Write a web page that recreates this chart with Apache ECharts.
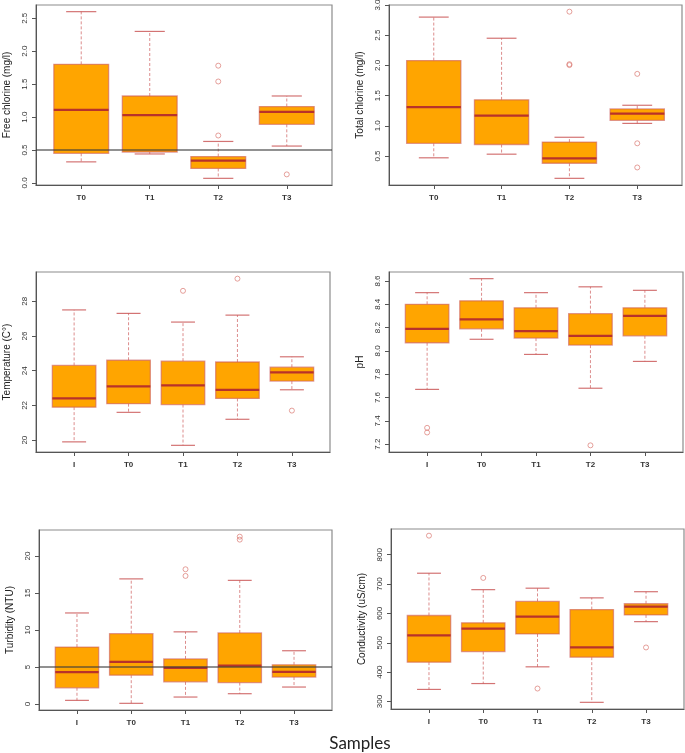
<!DOCTYPE html>
<html><head><meta charset="utf-8">
<script src="https://cdn.jsdelivr.net/npm/echarts@6/dist/echarts.min.js"></script>
<style>html,body{margin:0;padding:0;background:#fff}#c{width:685px;height:753px}</style>
</head><body><div id="c"></div>
<script>
// ---------- DATA ----------
const categoriesChlorine = ['T0', 'T1', 'T2', 'T3'];
const categoriesAll = ['I', 'T0', 'T1', 'T2', 'T3'];

// each row: [lower whisker, Q1, median, Q3, upper whisker]
const freeChlorineStats = [
  [0.32, 0.45, 1.11, 1.80, 2.60],
  [0.44, 0.47, 1.03, 1.32, 2.30],
  [0.07, 0.22, 0.34, 0.40, 0.63],
  [0.56, 0.89, 1.08, 1.16, 1.32]
];
const freeChlorineOutliers = [[], [], [1.78, 1.54, 0.72], [0.13]];
const freeChlorineTicks = [0, 0.5, 1.0, 1.5, 2.0, 2.5];
const freeChlorineLimit = 0.5;

const totalChlorineStats = [
  [0.47, 0.71, 1.31, 2.08, 2.80],
  [0.53, 0.69, 1.17, 1.43, 2.45],
  [0.13, 0.38, 0.46, 0.73, 0.81],
  [1.04, 1.09, 1.20, 1.28, 1.34]
];
const totalChlorineOutliers = [[], [], [2.89, 2.02, 2.005], [1.86, 0.71, 0.31]];
const totalChlorineTicks = [0.5, 1.0, 1.5, 2.0, 2.5, 3.0];

const temperatureStats = [
  [19.9, 21.9, 22.4, 24.3, 27.5],
  [21.6, 22.1, 23.1, 24.6, 27.3],
  [19.7, 22.05, 23.15, 24.55, 26.8],
  [21.2, 22.4, 22.9, 24.5, 27.2],
  [22.9, 23.4, 23.9, 24.2, 24.8]
];
const temperatureOutliers = [[], [], [28.6], [29.3], [21.7]];
const temperatureTicks = [20, 22, 24, 26, 28];

const phStats = [
  [7.67, 8.07, 8.19, 8.40, 8.50],
  [8.10, 8.19, 8.27, 8.43, 8.62],
  [7.97, 8.11, 8.17, 8.37, 8.50],
  [7.68, 8.05, 8.13, 8.32, 8.55],
  [7.91, 8.13, 8.30, 8.37, 8.52]
];
const phOutliers = [[7.34, 7.30], [], [], [7.19], []];
const phTicks = [7.2, 7.4, 7.6, 7.8, 8.0, 8.2, 8.4, 8.6];

const turbidityStats = [
  [0.5, 2.2, 4.3, 7.7, 12.3],
  [0.1, 3.9, 5.7, 9.5, 16.9],
  [0.95, 3.0, 4.9, 6.1, 9.75],
  [1.4, 2.9, 5.2, 9.6, 16.7],
  [2.3, 3.65, 4.35, 5.3, 7.2]
];
const turbidityOutliers = [[], [], [18.2, 17.3], [22.6, 22.2], []];
const turbidityTicks = [0, 5, 10, 15, 20];
const turbidityLimit = 5;

const conductivityStats = [
  [341, 434, 525, 593, 737],
  [361, 470, 548, 568, 681],
  [418, 530, 589, 641, 686],
  [297, 451, 484, 613, 653],
  [572, 595, 623, 633, 674]
];
const conductivityOutliers = [[865], [721], [344], [], [484]];
const conductivityTicks = [300, 400, 500, 600, 700, 800];

// ---------- LAYOUT ----------
const panels = [
  { cats: categoriesChlorine, stats: freeChlorineStats, out: freeChlorineOutliers, ticks: freeChlorineTicks, dec: 1, name: 'Free chlorine (mg/l)', limit: freeChlorineLimit, rect: [36, 5, 296, 180] },
  { cats: categoriesChlorine, stats: totalChlorineStats, out: totalChlorineOutliers, ticks: totalChlorineTicks, dec: 1, name: 'Total chlorine (mg/l)', limit: null, rect: [389, 5, 293, 180] },
  { cats: categoriesAll, stats: temperatureStats, out: temperatureOutliers, ticks: temperatureTicks, dec: 0, name: 'Temperature (C°)', limit: null, rect: [36, 272, 294, 180] },
  { cats: categoriesAll, stats: phStats, out: phOutliers, ticks: phTicks, dec: 1, name: 'pH', limit: null, rect: [389, 272, 294, 180] },
  { cats: categoriesAll, stats: turbidityStats, out: turbidityOutliers, ticks: turbidityTicks, dec: 0, name: 'Turbidity (NTU)', limit: turbidityLimit, rect: [39, 530, 293, 180] },
  { cats: categoriesAll, stats: conductivityStats, out: conductivityOutliers, ticks: conductivityTicks, dec: 0, name: 'Conductivity (uS/cm)', limit: null, rect: [391, 529, 293, 180] }
];

const FONT = 'Liberation Sans, Arial, sans-serif';
const BOX_FILL = '#FFA500';
const BOX_BORDER = 'rgba(205,92,92,0.6)';
const MEDIAN = '#B8322A';
const WHISKER = 'rgba(205,92,92,0.7)';
const CAP = 'rgba(200,80,80,0.8)';
const OUTLIER = '#DB7A74';

function renderBox(params, api) {
  const x = api.value(0);
  const lo = api.coord([x, api.value(1)]);
  const q1 = api.coord([x, api.value(2)]);
  const md = api.coord([x, api.value(3)]);
  const q3 = api.coord([x, api.value(4)]);
  const hi = api.coord([x, api.value(5)]);
  const cx = lo[0];
  const half = api.size([0.8, 0])[0] / 2;
  const capHalf = half * 0.55;
  return {
    type: 'group',
    children: [
      { type: 'line', shape: { x1: cx, y1: q3[1], x2: cx, y2: hi[1] }, style: { stroke: WHISKER, lineWidth: 1, lineDash: [3, 2] } },
      { type: 'line', shape: { x1: cx, y1: q1[1], x2: cx, y2: lo[1] }, style: { stroke: WHISKER, lineWidth: 1, lineDash: [3, 2] } },
      { type: 'line', shape: { x1: cx - capHalf, y1: hi[1], x2: cx + capHalf, y2: hi[1] }, style: { stroke: CAP, lineWidth: 1.2 } },
      { type: 'line', shape: { x1: cx - capHalf, y1: lo[1], x2: cx + capHalf, y2: lo[1] }, style: { stroke: CAP, lineWidth: 1.2 } },
      { type: 'rect', shape: { x: cx - half, y: q3[1], width: half * 2, height: q1[1] - q3[1] }, style: { fill: BOX_FILL, stroke: BOX_BORDER, lineWidth: 1.3 } },
      { type: 'line', shape: { x1: cx - half, y1: md[1], x2: cx + half, y2: md[1] }, style: { stroke: MEDIAN, lineWidth: 2.2 } }
    ]
  };
}

const grids = [], xAxes = [], yAxes = [], series = [];
panels.forEach((p, i) => {
  const n = p.cats.length;
  const positions = p.cats.map((c, k) => k + 1);
  const all = [];
  p.stats.forEach(s => all.push(s[0], s[4]));
  p.out.forEach(a => a.forEach(v => all.push(v)));
  const dMin = Math.min.apply(null, all), dMax = Math.max.apply(null, all);
  const ext = (dMax - dMin) * 0.04;

  grids.push({ left: p.rect[0], top: p.rect[1], width: p.rect[2], height: p.rect[3], show: true, borderColor: '#8c8c8c', borderWidth: 1.2, containLabel: false, outerBoundsMode: 'none' });

  xAxes.push({
    gridIndex: i, type: 'value', min: 0.5 - 0.04 * n, max: n + 0.5 + 0.04 * n,
    splitLine: { show: false },
    axisLine: { show: true, onZero: false, lineStyle: { color: '#555', width: 1 } },
    axisTick: { show: true, customValues: positions, length: 4, lineStyle: { color: '#555' } },
    axisLabel: { customValues: positions, formatter: v => p.cats[Math.round(v) - 1], fontSize: 8, color: '#333', margin: 9, fontFamily: FONT, fontWeight: 'bold' }
  });

  yAxes.push({
    gridIndex: i, type: 'value', min: dMin - ext, max: dMax + ext,
    splitLine: { show: false },
    axisLine: { show: true, onZero: false, lineStyle: { color: '#555', width: 1 } },
    axisTick: { show: true, customValues: p.ticks, length: 4, lineStyle: { color: '#555' } },
    axisLabel: { customValues: p.ticks, rotate: 90, formatter: v => Number(v).toFixed(p.dec), fontSize: 8, color: '#333', margin: 7, fontFamily: FONT },
    name: p.name, nameLocation: 'middle', nameGap: 24,
    nameTextStyle: { fontSize: 10, color: '#222', fontFamily: FONT }
  });

  series.push({
    type: 'custom', xAxisIndex: i, yAxisIndex: i, z: 2,
    data: p.stats.map((s, k) => [k + 1].concat(s)),
    encode: { x: 0, y: [1, 2, 3, 4, 5] },
    renderItem: renderBox, silent: true
  });

  const sc = {
    type: 'scatter', xAxisIndex: i, yAxisIndex: i, z: 3, clip: false, silent: true,
    symbol: 'circle', symbolSize: 5,
    itemStyle: { color: 'rgba(255,255,255,0)', borderColor: OUTLIER, borderWidth: 0.9 },
    data: p.out.reduce((acc, arr, k) => acc.concat(arr.map(v => [k + 1, v])), [])
  };
  if (p.limit !== null) {
    sc.markLine = {
      silent: true, symbol: ['none', 'none'], label: { show: false }, animation: false, z: 6,
      lineStyle: { color: 'rgba(60,60,60,0.75)', width: 1.6, type: 'solid' },
      data: [{ yAxis: p.limit }]
    };
  }
  series.push(sc);
});

const chart = echarts.init(document.getElementById('c'), null, { renderer: 'canvas' });
chart.setOption({
  animation: false,
  backgroundColor: '#fff',
  grid: grids, xAxis: xAxes, yAxis: yAxes, series: series,
  graphic: [{
    type: 'text', x: 360, y: 744,
    style: { text: 'Samples', fontSize: 17, fill: '#222', fontFamily: 'Lato, Open Sans, sans-serif', textAlign: 'center', textVerticalAlign: 'middle' }
  }]
});
</script></body></html>
